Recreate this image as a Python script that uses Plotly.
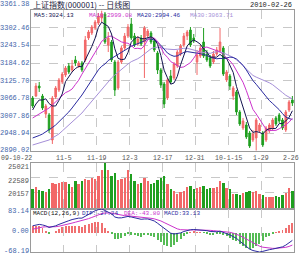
import plotly.graph_objects as go

# ---------------- data ----------------
opens = [3067.1, 3073.8, 3107.4, 3073.8, 3013.4, 3010.0, 2926.0, 3070.5, 3094.0, 3120.9,
         3144.4, 3174.6, 3161.2, 3194.8, 3174.6, 3184.7, 3194.8, 3268.7, 3285.5, 3302.3,
         3319.0, 3335.8, 3349.3, 3245.1, 3255.2, 3188.0, 3100.7, 3188.0, 3235.1, 3275.4,
         3315.7, 3275.4, 3248.5, 3268.7, 3255.2, 3275.4, 3285.5, 3258.6, 3218.3, 3161.2,
         3114.1, 3067.1, 3141.0, 3134.3, 3174.6, 3214.9, 3245.1, 3275.4, 3295.5, 3268.7,
         3188.0, 3208.2, 3255.2, 3214.9, 3201.5, 3188.0, 3214.9, 3225.0, 3235.1, 3127.6,
         3141.0, 3073.8, 3087.3, 3020.1, 2966.3, 2976.4, 2949.6, 2926.0, 2932.8, 2956.3,
         2949.6, 2926.0, 2956.3, 2966.3, 2999.9, 3010.0, 2993.2, 2959.6, 3026.8, 3060.4]
closes = [3040.3, 3107.4, 3100.7, 3033.5, 3040.3, 2959.6, 3067.1, 3100.7, 3127.6, 3147.7,
          3167.9, 3154.5, 3174.6, 3184.7, 3184.7, 3161.2, 3261.9, 3288.8, 3305.6, 3322.4,
          3342.6, 3349.3, 3255.2, 3268.7, 3194.8, 3094.0, 3188.0, 3235.1, 3275.4, 3305.6,
          3268.7, 3245.1, 3265.3, 3248.5, 3302.3, 3292.2, 3255.2, 3228.4, 3161.2, 3110.8,
          3047.0, 3127.6, 3120.9, 3181.3, 3221.6, 3241.8, 3275.4, 3288.8, 3245.1, 3258.6,
          3211.6, 3235.1, 3208.2, 3194.8, 3174.6, 3214.9, 3228.4, 3255.2, 3147.7, 3154.5,
          3107.4, 3100.7, 3020.1, 2979.8, 2989.9, 2936.1, 2905.9, 2946.2, 2993.2, 2976.4,
          2909.2, 2966.3, 2976.4, 2993.2, 2979.8, 2989.9, 2966.3, 3020.1, 3053.7, 3050.3]
highs = [3073.8, 3117.5, 3120.9, 3080.6, 3047.0, 3016.7, 3073.8, 3107.4, 3134.3, 3154.5,
         3174.6, 3184.7, 3194.8, 3208.2, 3191.4, 3191.4, 3275.4, 3295.5, 3312.3, 3329.1,
         3352.6, 3361.38, 3356.0, 3288.8, 3261.9, 3194.8, 3194.8, 3241.8, 3285.5, 3315.7,
         3335.8, 3285.5, 3275.4, 3278.7, 3309.0, 3298.9, 3292.2, 3265.3, 3225.0, 3167.9,
         3120.9, 3134.3, 3161.2, 3188.0, 3228.4, 3248.5, 3285.5, 3295.5, 3305.6, 3282.1,
         3228.4, 3245.1, 3302.3, 3228.4, 3211.6, 3225.0, 3238.4, 3302.3, 3241.8, 3161.2,
         3147.7, 3107.4, 3094.0, 3026.8, 2999.9, 2986.5, 2956.3, 2959.6, 2999.9, 2983.1,
         2956.3, 2973.1, 2983.1, 2999.9, 3006.7, 3016.7, 2999.9, 3026.8, 3060.4, 3073.8]
lows = [3033.5, 3070.5, 3087.3, 3026.8, 2999.9, 2949.6, 2912.6, 3063.8, 3087.3, 3114.1,
        3137.7, 3147.7, 3154.5, 3174.6, 3167.9, 3154.5, 3188.0, 3261.9, 3278.7, 3295.5,
        3312.3, 3322.4, 3248.5, 3221.6, 3188.0, 3073.8, 3094.0, 3181.3, 3228.4, 3268.7,
        3261.9, 3238.4, 3241.8, 3241.8, 3134.3, 3268.7, 3248.5, 3221.6, 3147.7, 3100.7,
        3033.5, 3060.4, 3114.1, 3127.6, 3167.9, 3208.2, 3238.4, 3261.9, 3238.4, 3251.9,
        3144.4, 3201.5, 3201.5, 3188.0, 3167.9, 3181.3, 3208.2, 3218.3, 3141.0, 3120.9,
        3094.0, 3060.4, 3010.0, 2973.1, 2959.6, 2929.4, 2899.2, 2919.3, 2890.02, 2949.6,
        2902.5, 2919.3, 2949.6, 2959.6, 2973.1, 2983.1, 2959.6, 2952.9, 3020.1, 3040.3]
volumes = [20907, 21251, 20735, 20563, 20391, 20907, 21767, 21595, 21767, 21939,
           21939, 21595, 21251, 22111, 21595, 22111, 22455, 22283, 22627, 22455,
           22971, 23831, 25021, 23831, 22971, 23487, 22283, 22455, 22627, 23831,
           23315, 22111, 21595, 21767, 22627, 22111, 21595, 21767, 22283, 22627,
           22971, 21595, 20907, 20563, 20047, 20391, 20563, 21251, 21423, 20907,
           21079, 21251, 21423, 20907, 21079, 21079, 21251, 22111, 21767, 21079,
           20907, 20047, 20047, 19875, 20219, 20391, 20563, 20391, 20563, 20047,
           19875, 19531, 19531, 19531, 19703, 19531, 19875, 20219, 21079, 20563]
ma5 = [3026.8, 3047.0, 3060.4, 3060.4, 3064.4, 3048.3, 3040.3, 3040.3, 3059.1, 3080.6,
       3122.2, 3139.7, 3154.5, 3165.9, 3173.3, 3171.9, 3193.4, 3216.2, 3240.4, 3268.0,
       3304.3, 3321.7, 3315.0, 3307.6, 3282.1, 3232.4, 3200.1, 3196.1, 3197.5, 3219.6,
       3254.5, 3266.0, 3272.0, 3266.6, 3266.0, 3270.7, 3272.7, 3265.3, 3247.8, 3209.5,
       3160.5, 3135.0, 3113.5, 3117.5, 3139.7, 3178.6, 3208.2, 3241.8, 3254.5, 3261.9,
       3255.9, 3247.8, 3231.7, 3221.6, 3204.8, 3205.5, 3204.2, 3213.6, 3204.2, 3200.1,
       3178.6, 3153.1, 3106.1, 3072.5, 3039.6, 3005.3, 2966.3, 2951.6, 2954.3, 2951.6,
       2946.2, 2958.3, 2964.3, 2964.3, 2965.0, 2981.1, 2981.1, 2989.9, 3002.0, 3024.13]
ma10 = [2999.9, 3006.7, 3013.4, 3020.1, 3026.8, 3033.5, 3043.6, 3053.7, 3062.1, 3072.5,
        3085.3, 3090.0, 3097.3, 3112.5, 3126.9, 3147.1, 3166.5, 3185.4, 3203.2, 3220.6,
        3238.1, 3257.6, 3265.6, 3274.0, 3275.0, 3268.3, 3260.9, 3255.6, 3252.5, 3250.9,
        3243.5, 3233.1, 3234.1, 3232.0, 3242.8, 3262.6, 3269.3, 3268.7, 3257.2, 3237.8,
        3215.6, 3203.8, 3189.4, 3182.7, 3174.6, 3169.6, 3171.6, 3177.6, 3186.0, 3200.8,
        3217.3, 3228.0, 3236.7, 3238.1, 3233.4, 3230.7, 3226.0, 3222.6, 3212.9, 3202.5,
        3192.1, 3178.6, 3159.8, 3137.5, 3119.9, 3092.0, 3059.7, 3028.8, 3013.4, 2995.6,
        2975.8, 2962.3, 2958.0, 2959.3, 2958.3, 2963.7, 2969.7, 2977.1, 2986.0, 2999.08]
ma20 = [2932.8, 2936.1, 2941.2, 2946.2, 2952.9, 2959.6, 2968.0, 2976.4, 2986.5, 2996.6,
        3008.3, 3020.1, 3033.5, 3047.0, 3062.1, 3077.2, 3094.0, 3110.8, 3127.6, 3146.4,
        3161.5, 3173.6, 3181.3, 3193.1, 3200.8, 3207.5, 3213.6, 3220.3, 3227.7, 3235.7,
        3240.8, 3245.1, 3249.9, 3252.9, 3258.9, 3265.3, 3265.3, 3261.9, 3254.9, 3244.1,
        3229.4, 3218.3, 3211.6, 3207.2, 3208.5, 3215.9, 3220.3, 3223.0, 3221.6, 3219.3,
        3216.3, 3215.9, 3212.9, 3210.2, 3203.8, 3200.1, 3198.8, 3200.1, 3199.5, 3201.5,
        3204.5, 3203.2, 3198.1, 3188.0, 3176.6, 3161.2, 3142.7, 3125.6, 3113.1, 3099.0,
        3083.9, 3070.5, 3058.7, 3048.7, 3038.9, 3027.8, 3014.7, 3003.0, 2998.3, 2994.46]
ma30 = [2909.2, 2912.6, 2916.0, 2919.3, 2922.7, 2926.0, 2932.8, 2939.5, 2946.2, 2956.3,
        2966.3, 2976.4, 2986.5, 2996.6, 3006.7, 3016.7, 3030.2, 3043.6, 3057.0, 3070.5,
        3083.9, 3097.4, 3110.8, 3124.2, 3134.3, 3144.4, 3154.5, 3164.5, 3172.9, 3181.3,
        3189.1, 3193.4, 3199.1, 3206.2, 3214.9, 3226.0, 3232.4, 3236.4, 3237.8, 3236.4,
        3232.4, 3231.4, 3229.7, 3229.7, 3230.7, 3233.4, 3234.1, 3234.1, 3232.0, 3229.7,
        3225.3, 3221.6, 3219.9, 3217.6, 3216.9, 3220.9, 3222.3, 3223.0, 3218.6, 3213.6,
        3208.2, 3203.5, 3195.4, 3186.4, 3176.0, 3164.2, 3152.4, 3143.0, 3137.3, 3132.9,
        3128.2, 3122.9, 3118.2, 3111.8, 3103.7, 3095.3, 3085.3, 3076.2, 3069.8, 3063.71]
dif = [24, 27, 29, 27, 24, 18, 20, 24, 29, 34,
       39, 42, 46, 49, 51, 51, 58, 65, 71, 77,
       81, 83.14, 78, 73, 66, 55, 52, 52, 54, 57,
       55, 52, 50, 47, 48, 48, 45, 41, 33, 24,
       13, 5, -2, -5, -4, -1, 4, 8, 10, 11,
       10, 10, 9, 7, 4, 3, 3, 5, 1, -3,
       -8, -14, -20, -30, -40, -50, -58, -63, -66, -68.19,
       -66, -62, -60, -58, -55, -52, -50, -44, -36, -27.24]
dea = [12.0, 15.0, 17.8, 19.6, 20.5, 20.0, 20.0, 20.8, 22.5, 24.8,
       27.6, 30.5, 33.6, 36.7, 39.5, 41.8, 45.1, 49.1, 53.4, 58.2,
       62.7, 66.8, 69.1, 69.8, 69.1, 66.3, 63.4, 61.1, 59.7, 59.2,
       58.3, 57.1, 55.7, 53.9, 52.7, 51.8, 50.4, 48.5, 45.4, 41.1,
       35.5, 29.4, 23.1, 17.5, 13.2, 10.4, 9.1, 8.9, 9.1, 9.5,
       9.6, 9.7, 9.5, 9.0, 8.0, 7.0, 6.2, 6.0, 5.0, 3.4,
       1.1, -1.9, -5.5, -10.4, -16.3, -23.1, -30.1, -36.7, -42.5, -47.7,
       -51.3, -53.5, -54.8, -55.4, -55.3, -54.7, -53.7, -51.8, -48.6, -43.80]
macd_hist = [24.0, 24.0, 22.4, 14.7, 7.0, -4.0, 0.0, 6.4, 13.1, 18.5,
             22.8, 23.0, 24.8, 24.7, 22.9, 18.3, 25.9, 31.9, 35.1, 37.7,
             36.6, 32.7, 17.9, 6.3, -6.1, -22.5, -22.8, -18.3, -11.4, -4.3,
             -6.7, -10.1, -11.3, -13.8, -9.5, -7.6, -10.9, -15.1, -24.9, -34.3,
             -45.0, -48.8, -50.3, -45.0, -34.4, -22.7, -10.2, -1.7, 1.8, 3.0,
             0.8, 0.7, -1.1, -4.0, -8.0, -8.0, -6.4, -2.0, -8.0, -12.8,
             -18.2, -24.2, -28.9, -39.1, -47.3, -53.9, -55.9, -52.7, -47.0, -41.1,
             -29.3, -17.1, -10.5, -5.2, 0.7, 5.3, 7.5, 15.6, 25.3, 33.13]

price_ticks = [3361.38, 3302.46, 3243.54, 3184.62, 3125.70, 3066.78, 3007.86, 2948.94, 2890.02]
vol_ticks = [25021, 22589, 20157]
macd_ticks = [83.14, 0.00, -68.19]
date_labels = ["09-10-22", "11-5", "11-19", "12-3", "12-17", "12-31", "10-1-15", "1-29", "2-26"]
date_label_index = [-0.5, 9.5, 19.5, 29.5, 39.5, 49.5, 59.5, 69.5, 79.5]
title_text = "上证指数(000001) -- 日线图"
date_text = "2010-02-26"
ma_legend = ["MA5:3024.13", "MA10:2999.08", "MA20:2994.46", "MA30:3063.71"]
macd_legend = ["MACD(12,26,9)", "DIF:-27.24", "DEA:-43.80", "MACD:33.13"]

# ---------------- styling ----------------
W, H = 300, 254
RED, GREEN = "#f26868", "#1f9f1f"
C_MA5, C_MA10, C_MA20, C_MA30 = "#141450", "#cc33cc", "#2b2ba0", "#a58fd8"
GRID, BORDER = "#c8c8c8", "#9a9a9a"
LBL = "#3f66aa"
NUMFONT = "Liberation Mono"
CJK = "Noto Sans CJK SC"


def py(px):
    return 1 - px / H


def pxx(px):
    return px / W


x_idx = list(range(len(closes)))
XR = [-0.5, len(closes) - 0.5]
grid_x = date_label_index[1:-1]

fig = go.Figure()
fig.add_trace(go.Candlestick(
    x=x_idx, open=opens, high=highs, low=lows, close=closes,
    increasing=dict(line=dict(color=RED, width=1), fillcolor=RED),
    decreasing=dict(line=dict(color=GREEN, width=1), fillcolor=GREEN),
    whiskerwidth=0, xaxis="x", yaxis="y", hoverinfo="skip"))
for vals, col in [(ma30, C_MA30), (ma20, C_MA20), (ma10, C_MA10), (ma5, C_MA5)]:
    fig.add_trace(go.Scatter(x=x_idx, y=vals, mode="lines",
                             line=dict(color=col, width=1), xaxis="x", yaxis="y",
                             hoverinfo="skip"))

vol_colors = [RED if c >= o else GREEN for o, c in zip(opens, closes)]
fig.add_trace(go.Bar(x=x_idx, y=volumes, marker=dict(color=vol_colors, line=dict(width=0)),
                     width=0.72, xaxis="x2", yaxis="y2", hoverinfo="skip"))

hist_colors = ["#f07070" if v >= 0 else "#55bb55" for v in macd_hist]
fig.add_trace(go.Bar(x=x_idx, y=macd_hist, marker=dict(color=hist_colors, line=dict(width=0)),
                     width=0.3, xaxis="x3", yaxis="y3", hoverinfo="skip"))
fig.add_trace(go.Scatter(x=x_idx, y=dea, mode="lines", line=dict(color=C_MA10, width=1),
                         xaxis="x3", yaxis="y3", hoverinfo="skip"))
fig.add_trace(go.Scatter(x=x_idx, y=dif, mode="lines", line=dict(color=C_MA20, width=1),
                         xaxis="x3", yaxis="y3", hoverinfo="skip"))

xdom = [pxx(31), pxx(294)]


def xaxis_cfg(anchor):
    return dict(domain=xdom, range=XR, anchor=anchor, tickvals=grid_x, showticklabels=False,
                ticks="", showgrid=True, gridcolor=GRID, griddash="dash", gridwidth=1,
                zeroline=False, showline=True, linecolor=BORDER, linewidth=1, mirror=True,
                rangeslider=dict(visible=False), fixedrange=True)


def yaxis_cfg(anchor, dom, rng, grid_vals):
    return dict(domain=dom, range=rng, anchor=anchor, tickvals=grid_vals, showticklabels=False,
                ticks="", showgrid=True, gridcolor=GRID, griddash="dash", gridwidth=1,
                zeroline=False, showline=True, linecolor=BORDER, linewidth=1, mirror=True,
                fixedrange=True)


fig.update_layout(
    width=W, height=H, margin=dict(l=0, r=0, t=0, b=0),
    paper_bgcolor="white", plot_bgcolor="white", showlegend=False, bargap=0,
    xaxis=xaxis_cfg("y"),
    xaxis2=xaxis_cfg("y2"),
    xaxis3=xaxis_cfg("y3"),
    yaxis=yaxis_cfg("x", [py(150.7), py(10.4)], [price_ticks[-1], price_ticks[0]], price_ticks[1:-1]),
    yaxis2=yaxis_cfg("x2", [py(209), py(162.5)], [17600, vol_ticks[0]], vol_ticks[1:]),
    yaxis3=yaxis_cfg("x3", [py(252), py(209)], [macd_ticks[-1], macd_ticks[0]], []),
)

ann = []


def text(x, y, s, color, size=7, xanchor="left", family=NUMFONT, xref="paper", yref="paper"):
    ann.append(dict(x=x, y=y, xref=xref, yref=yref, text=s, showarrow=False,
                    xanchor=xanchor, yanchor="middle", borderpad=0,
                    font=dict(family=family, size=size, color=color)))


# title row
text(pxx(32), py(5), title_text, "#1a1a40", size=8, family=CJK)
text(pxx(293), py(5), date_text, "#222222", size=7, xanchor="right")

# price axis labels
for i, v in enumerate(price_ticks):
    ypx = 4 if i == 0 else 10.4 + i * (150.7 - 10.4) / 8
    if i == len(price_ticks) - 1:
        ypx = 150
    text(pxx(30), py(ypx), "%.2f" % v, LBL, xanchor="right")

# volume axis labels
for ypx, v in zip([166.5, 180.5, 194], vol_ticks):
    text(pxx(30), py(ypx), str(v), "#555555", xanchor="right")

# macd axis labels
for ypx, v in zip([210.5, 230.5, 250.5], macd_ticks):
    text(pxx(30), py(ypx), "%.2f" % v, LBL, xanchor="right")

# date labels
for i, (lab, pos) in enumerate(zip(date_labels, date_label_index)):
    if i == 0:
        text(pxx(0), py(158.3), lab, "#555555", size=6.5, xanchor="left")
    elif i == len(date_labels) - 1:
        text(pxx(300), py(158.3), lab, "#555555", size=6.5, xanchor="right")
    else:
        text(pos, py(158.3), lab, "#555555", size=6.5, xanchor="center", xref="x")

# MA legend
for s, col, xpx in zip(ma_legend, [C_MA5, C_MA10, C_MA20, C_MA30], [33, 88, 136, 189]):
    text(pxx(xpx), py(15), s, col, size=6)

# MACD legend
for s, col, xpx in zip(macd_legend, ["#111111", C_MA20, C_MA10, C_MA20], [32, 81, 123, 163]):
    text(pxx(xpx), py(213.5), s, col, size=6)

fig.update_layout(annotations=ann)
fig.write_html("out.html")
